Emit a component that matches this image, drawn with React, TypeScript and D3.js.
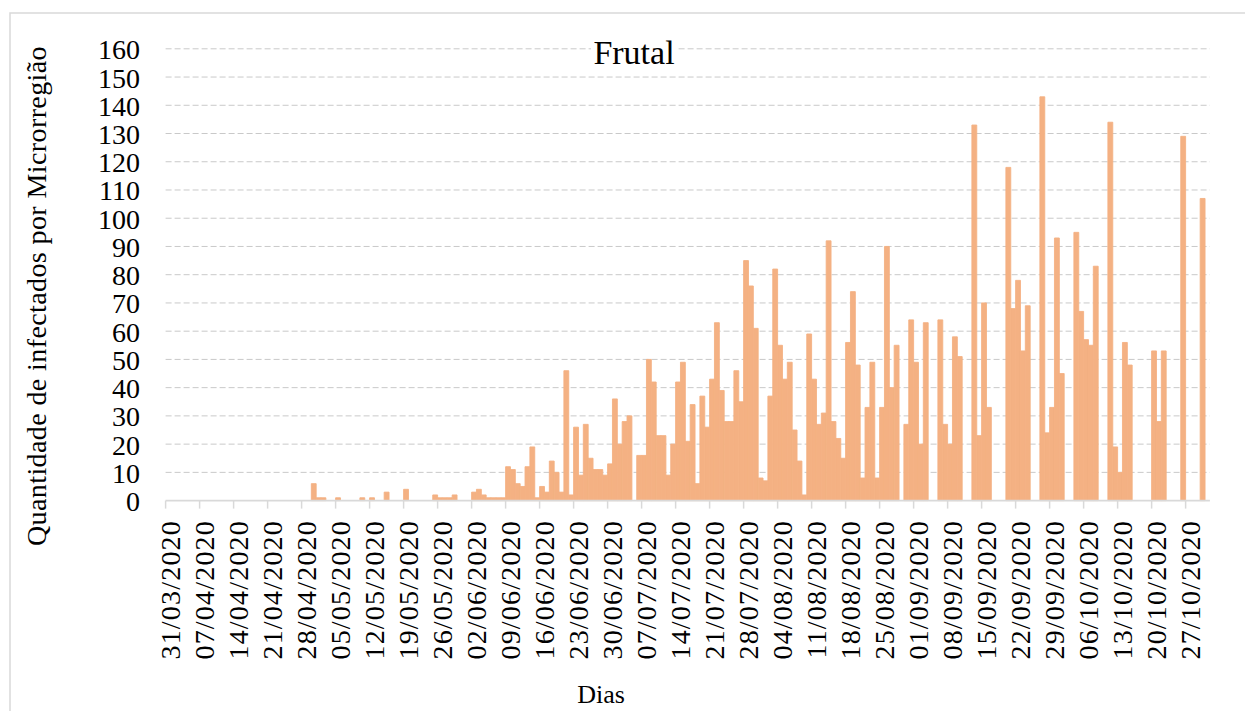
import React, { useRef, useEffect } from "react";
import * as d3 from "d3";

// Casos diários, um valor por dia de 31/03/2020 a 31/10/2020 (0 = sem registro)
const dailyCases: number[] = [
  0, 0, 0, 0, 0, 0, 0,
  0, 0, 0, 0, 0, 0, 0,
  0, 0, 0, 0, 0, 0, 0,
  0, 0, 0, 0, 0, 0, 0,
  0, 0, 6, 1, 1, 0, 0,
  1, 0, 0, 0, 0, 1, 0,
  1, 0, 0, 3, 0, 0, 0,
  4, 0, 0, 0, 0, 0, 2,
  1, 1, 1, 2, 0, 0, 0,
  3, 4, 2, 1, 1, 1, 1,
  12, 11, 6, 5, 12, 19, 1,
  5, 3, 14, 10, 3, 46, 2,
  26, 9, 27, 15, 11, 11, 9,
  13, 36, 20, 28, 30, 0, 16,
  16, 50, 42, 23, 23, 9, 20,
  42, 49, 21, 34, 6, 37, 26,
  43, 63, 39, 28, 28, 46, 35,
  85, 76, 61, 8, 7, 37, 82,
  55, 43, 49, 25, 14, 2, 59,
  43, 27, 31, 92, 28, 22, 15,
  56, 74, 48, 8, 33, 49, 8,
  33, 90, 40, 55, 0, 27, 64,
  49, 20, 63, 0, 0, 64, 27,
  20, 58, 51, 0, 0, 133, 23,
  70, 33, 0, 0, 0, 118, 68,
  78, 53, 69, 0, 0, 143, 24,
  33, 93, 45, 0, 0, 95, 67,
  57, 55, 83, 0, 0, 134, 19,
  10, 56, 48, 0, 0, 0, 0,
  53, 28, 53, 0, 0, 0, 129,
  0, 0, 0, 107, 0,
];

const fmt = d3.timeFormat("%d/%m/%Y");
const days: string[] = d3
  .timeDay.range(new Date(2020, 2, 31), new Date(2020, 10, 1))
  .map((d) => fmt(d));

const tickLabels = [
  "31/03/2020", "07/04/2020", "14/04/2020", "21/04/2020", "28/04/2020",
  "05/05/2020", "12/05/2020", "19/05/2020", "26/05/2020", "02/06/2020",
  "09/06/2020", "16/06/2020", "23/06/2020", "30/06/2020", "07/07/2020",
  "14/07/2020", "21/07/2020", "28/07/2020", "04/08/2020", "11/08/2020",
  "18/08/2020", "25/08/2020", "01/09/2020", "08/09/2020", "15/09/2020",
  "22/09/2020", "29/09/2020", "06/10/2020", "13/10/2020", "20/10/2020",
  "27/10/2020",
];

const yTicks = [0, 10, 20, 30, 40, 50, 60, 70, 80, 90, 100, 110, 120, 130, 140, 150, 160];

const W = 1245;
const H = 711;
const FONT = "'Liberation Serif', 'Times New Roman', serif";
const BAR = "#F4B183";
const GRID = "#c9c9c9";
const AXIS = "#d9d9d9";

const App: React.FC = () => {
  const svgRef = useRef<SVGSVGElement>(null);

  useEffect(() => {
    if (!svgRef.current) return;
    const svg = d3.select(svgRef.current);
    svg.selectAll("*").remove();

    const x = d3.scaleBand<string>().domain(days).range([165.6, 1209.9]).padding(0);
    const y = d3.scaleLinear().domain([0, 160]).range([500.6, 48.8]);
    const [x0, x1] = x.range();

    // moldura do gráfico
    svg
      .append("path")
      .attr("d", `M10,${H} V13 H${W}`)
      .attr("fill", "none")
      .attr("stroke", AXIS)
      .attr("stroke-width", 1.5);

    // linhas de grade
    svg
      .append("g")
      .selectAll("line")
      .data(yTicks.filter((t) => t > 0))
      .join("line")
      .attr("x1", x0)
      .attr("x2", x1)
      .attr("y1", (d) => y(d))
      .attr("y2", (d) => y(d))
      .attr("stroke", GRID)
      .attr("stroke-width", 1)
      .attr("stroke-dasharray", "6,3");

    // barras
    svg
      .append("g")
      .selectAll("rect")
      .data(dailyCases.map((v, i) => ({ day: days[i], v })).filter((d) => d.v > 0))
      .join("rect")
      .attr("x", (d) => x(d.day)!)
      .attr("width", x.bandwidth())
      .attr("y", (d) => y(d.v))
      .attr("height", (d) => y(0) - y(d.v))
      .attr("fill", BAR)
      .attr("stroke", BAR)
      .attr("stroke-width", 0.9)
      .attr("stroke-linejoin", "round");

    // eixo x
    svg
      .append("line")
      .attr("x1", x0)
      .attr("x2", x1)
      .attr("y1", y(0))
      .attr("y2", y(0))
      .attr("stroke", AXIS)
      .attr("stroke-width", 1.8);

    const ticks = svg.append("g");
    tickLabels.forEach((lbl) => {
      const tx = x(lbl)!;
      ticks
        .append("line")
        .attr("x1", tx)
        .attr("x2", tx)
        .attr("y1", y(0))
        .attr("y2", y(0) + 8)
        .attr("stroke", AXIS)
        .attr("stroke-width", 1.5);
      ticks
        .append("text")
        .attr("transform", `translate(${tx + 14.5},520) rotate(-90)`)
        .attr("text-anchor", "end")
        .attr("font-family", FONT)
        .attr("font-size", 28)
        .attr("letter-spacing", 1.2)
        .attr("fill", "#000")
        .text(lbl);
    });

    // rótulos do eixo y
    svg
      .append("g")
      .selectAll("text")
      .data(yTicks)
      .join("text")
      .attr("x", 140)
      .attr("y", (d) => y(d) + 10.5)
      .attr("text-anchor", "end")
      .attr("font-family", FONT)
      .attr("font-size", 28)
      .attr("fill", "#000")
      .text((d) => d);

    // título
    svg
      .append("rect")
      .attr("x", 591)
      .attr("y", 36)
      .attr("width", 86)
      .attr("height", 34)
      .attr("fill", "#fff");
    svg
      .append("text")
      .attr("x", 634)
      .attr("y", 64.3)
      .attr("text-anchor", "middle")
      .attr("font-family", FONT)
      .attr("font-size", 34)
      .attr("fill", "#000")
      .text("Frutal");

    // títulos dos eixos
    svg
      .append("text")
      .attr("x", 601)
      .attr("y", 703)
      .attr("text-anchor", "middle")
      .attr("font-family", FONT)
      .attr("font-size", 26)
      .attr("fill", "#000")
      .text("Dias");

    svg
      .append("text")
      .attr("transform", "translate(46,296) rotate(-90)")
      .attr("text-anchor", "middle")
      .attr("font-family", FONT)
      .attr("font-size", 28)
      .attr("letter-spacing", 0.4)
      .attr("fill", "#000")
      .text("Quantidade de infectados por Microrregião");
  }, []);

  return (
    <svg
      ref={svgRef}
      width={W}
      height={H}
      style={{ position: "absolute", left: 0, top: 0, background: "#fff" }}
    />
  );
};

export default App;
